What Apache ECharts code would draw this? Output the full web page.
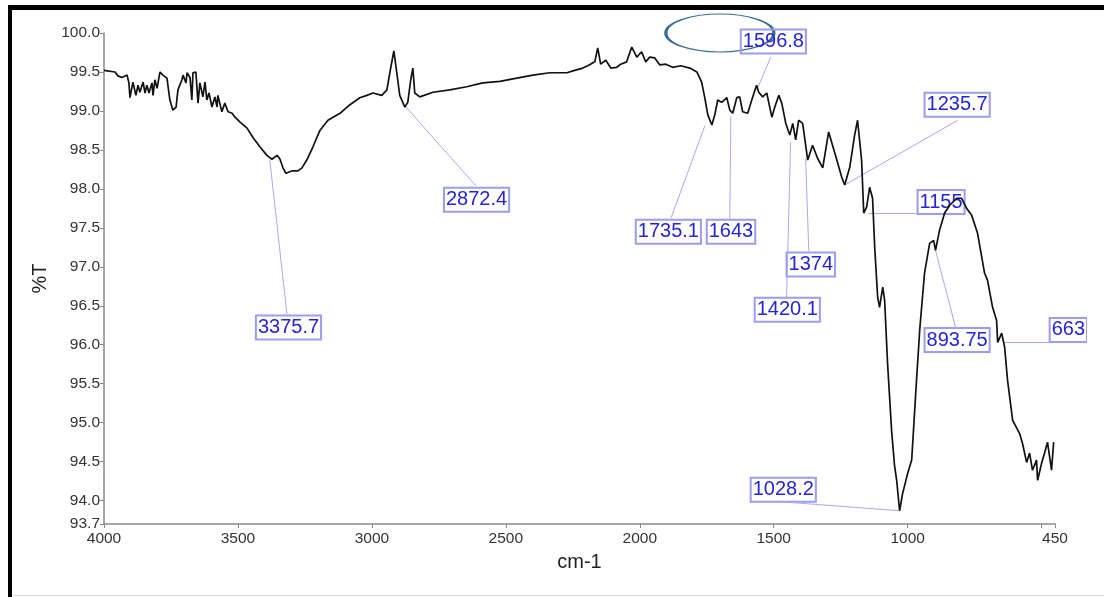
<!DOCTYPE html>
<html><head><meta charset="utf-8">
<script src="https://cdn.jsdelivr.net/npm/echarts@6/dist/echarts.min.js"></script>
<style>html,body{margin:0;padding:0;background:#fff}#c{width:1104px;height:597px}</style>
</head><body><div id="c"></div>
<script>
// FTIR spectrum: wavenumber (cm-1) and %T
const wavenumber = [4000,3959,3948,3933,3914,3907,3903,3892,3881,3873,3866,3854,3847,3840,3832,3821,3817,3810,3802,3791,3780,3765,3754,3743,3731,3724,3709,3705,3694,3690,3679,3672,3668,3657,3649,3642,3631,3623,3616,3608,3597,3586,3578,3575,3560,3549,3537,3522,3511,3493,3466,3444,3418,3392,3373,3354,3343,3332,3321,3299,3276,3261,3243,3220,3194,3164,3119,3082,3045,3019,2996,2963,2944,2933,2918,2907,2896,2877,2866,2855,2847,2840,2821,2772,2709,2646,2586,2522,2459,2399,2336,2272,2243,2213,2194,2168,2157,2146,2127,2108,2086,2071,2049,2030,2011,1993,1978,1963,1944,1925,1903,1877,1847,1813,1787,1769,1758,1746,1731,1720,1709,1694,1675,1664,1653,1638,1627,1616,1597,1582,1564,1556,1541,1526,1507,1496,1481,1470,1455,1440,1429,1418,1407,1392,1373,1355,1336,1317,1295,1272,1246,1235,1216,1198,1187,1172,1164,1153,1142,1131,1123,1112,1105,1093,1086,1075,1060,1049,1041,1030,1019,1000,985,967,955,937,918,903,896,881,862,843,817,799,780,761,739,713,702,683,668,664,649,638,627,608,582,571,556,545,534,519,515,500,489,478,463,455];
const transmittance = [99.52,99.50,99.45,99.43,99.46,99.36,99.17,99.37,99.20,99.33,99.24,99.37,99.23,99.33,99.23,99.36,99.20,99.40,99.29,99.50,99.46,99.42,99.14,99.01,99.05,99.27,99.40,99.46,99.36,99.49,99.43,99.14,99.49,99.50,99.10,99.36,99.18,99.37,99.14,99.23,99.05,99.18,99.05,99.20,98.99,99.10,98.99,98.97,98.92,98.86,98.78,98.66,98.54,98.43,98.38,98.43,98.38,98.27,98.20,98.23,98.23,98.27,98.37,98.54,98.75,98.88,98.97,99.08,99.17,99.20,99.23,99.20,99.27,99.49,99.77,99.49,99.20,99.05,99.11,99.40,99.55,99.23,99.18,99.24,99.27,99.31,99.36,99.38,99.42,99.46,99.49,99.49,99.52,99.55,99.58,99.63,99.81,99.60,99.65,99.55,99.56,99.60,99.63,99.82,99.69,99.76,99.63,99.69,99.68,99.59,99.60,99.56,99.58,99.55,99.50,99.37,99.18,98.95,98.82,98.95,99.14,99.11,99.17,99.01,98.97,99.17,99.18,98.99,98.97,99.14,99.33,99.24,99.18,99.23,98.92,99.05,99.20,99.10,98.84,98.69,98.84,98.63,98.88,98.84,98.37,98.56,98.39,98.27,98.73,98.46,98.15,98.05,98.28,98.69,98.88,98.37,97.69,97.77,98.02,97.88,97.25,96.61,96.48,96.74,96.57,95.76,94.90,94.45,94.26,93.87,94.09,94.35,94.52,95.54,96.19,96.92,97.30,97.34,97.21,97.47,97.69,97.79,97.88,97.88,97.75,97.66,97.43,96.92,96.83,96.48,96.31,96.03,96.15,95.97,95.54,95.03,94.86,94.73,94.49,94.61,94.39,94.52,94.26,94.48,94.61,94.75,94.39,94.75];

const xTickValues = [4000,3500,3000,2500,2000,1500,1000,500,450];
const xLabelValues = [4000,3500,3000,2500,2000,1500,1000,450];
const yLabelValues = [93.7,94.0,94.5,95.0,95.5,96.0,96.5,97.0,97.5,98.0,98.5,99.0,99.5,100.0];

// peak annotations
const peakNames   = ['3375.7','2872.4','1735.1','1643','1596.8','1235.7','1420.1','1374','1155','893.75','663','1028.2'];
const peakPoints  = [[3381,98.37],[2873,99.05],[1757,98.81],[1660,98.93],[1563,99.27],[1235,98.05],[1437,98.60],[1381,98.39],[1146,97.69],[896,97.21],[642,96.03],[1030,93.87]];
const leaderEnds  = [[3317,96.39],[2612,98.04],[1884,97.62],[1664,97.62],[1511,99.69],[813,98.88],[1452,96.61],[1369,97.20],[963,97.69],[821,96.22],[470,96.03],[1452,93.98]];
const boxAnchors  = [[3433,96.22],[2731,97.86],[2015,97.45],[1750,97.45],[1623,99.89],[937,99.08],[1571,96.45],[1452,97.03],[963,97.83],[937,96.06],[470,96.19],[1586,94.14]];
const highlightCenter = [1701, 100.0];

const chart = echarts.init(document.getElementById('c'), null, {renderer:'canvas'});
const font = 'Liberation Sans, Arial, sans-serif';

const markLines = peakPoints.map((p,i)=>[{coord:p},{coord:leaderEnds[i]}]);
const markPoints = peakNames.map((n,i)=>({name:n, coord:boxAnchors[i]}));
markPoints.push({
  name:'highlight', coord:highlightCenter, symbol:'circle', symbolSize:[108,38],
  itemStyle:{color:'rgba(0,0,0,0)', borderColor:'#3d6c90', borderWidth:2},
  label:{show:false}
});

chart.setOption({
  animation:false,
  backgroundColor:'#fff',
  grid:{left:104, right:49, top:33, bottom:73, containLabel:false},
  xAxis:{
    type:'value', min:450, max:4000, inverse:true,
    name:'cm-1', nameLocation:'middle', nameGap:28,
    nameTextStyle:{fontSize:20, color:'#222', fontFamily:font},
    axisLine:{show:true, lineStyle:{color:'#8a8a8a', width:1.5}},
    axisTick:{show:true, length:4, lineStyle:{color:'#8a8a8a'}, customValues:xTickValues},
    axisLabel:{color:'#333', fontSize:15.5, fontFamily:font, margin:7, customValues:xLabelValues,
      formatter:v=>String(v)},
    splitLine:{show:false}
  },
  yAxis:{
    type:'value', min:93.7, max:100,
    name:'%T', nameLocation:'middle', nameGap:54, nameRotate:90,
    nameTextStyle:{fontSize:20, color:'#222', fontFamily:font},
    axisLine:{show:true, lineStyle:{color:'#8a8a8a', width:1.5}},
    axisTick:{show:true, length:4, lineStyle:{color:'#8a8a8a'}, customValues:yLabelValues},
    axisLabel:{color:'#333', fontSize:15.5, fontFamily:font, margin:4, customValues:yLabelValues,
      formatter:v=>Number(v).toFixed(1)},
    splitLine:{show:false}
  },
  series:[{
    type:'line', showSymbol:false, symbol:'none',
    data: wavenumber.map((w,i)=>[w, transmittance[i]]),
    lineStyle:{color:'#111', width:1.7},
    z:3,
    markLine:{
      silent:true, symbol:'none', animation:false,
      label:{show:false},
      lineStyle:{color:'#a9a9f2', width:1, type:'solid'},
      data: markLines, z:2
    },
    markPoint:{
      silent:true, symbol:'rect', symbolSize:0, animation:false,
      itemStyle:{color:'rgba(0,0,0,0)'},
      label:{show:true, position:'right', distance:0, formatter:'{b}',
        color:'#2424dc', fontSize:20, fontFamily:font,
        borderColor:'#9c9cf0', borderWidth:1, padding:[3,2,1,2],
        backgroundColor:'rgba(0,0,0,0)'},
      data: markPoints, z:1
    }
  }],
  graphic:[
    {type:'rect', shape:{x:1087, y:10, width:17, height:587}, style:{fill:'#fff'}, z:90},
    {type:'rect', shape:{x:8, y:5, width:4, height:592}, style:{fill:'#000'}, z:100},
    {type:'rect', shape:{x:8, y:5, width:1096, height:5}, style:{fill:'#000'}, z:100},
    {type:'line', shape:{x1:12, y1:595.5, x2:1104, y2:595.5}, style:{stroke:'#dcdcdc', lineWidth:1}, z:100}
  ]
});
</script></body></html>
